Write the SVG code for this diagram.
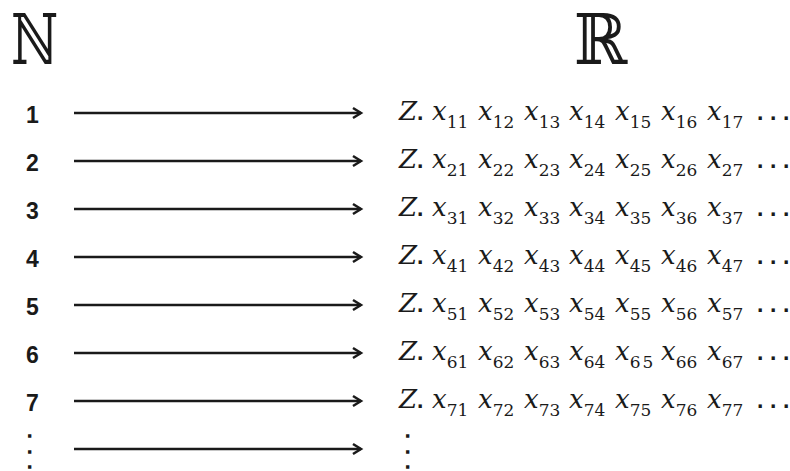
<svg xmlns="http://www.w3.org/2000/svg" width="790" height="471" viewBox="0 0 790 471">
<style>
.set{font-family:"DejaVu Serif","Liberation Serif",serif;font-size:70px;fill:#1a1a1a}
.num{font-family:"Liberation Sans",Arial,sans-serif;font-weight:bold;font-size:23px;fill:#1a1a1a}
.vd{font-family:"Liberation Sans",Arial,sans-serif;font-weight:bold;font-size:12px;fill:#1a1a1a;stroke:#1a1a1a;stroke-width:1.6}
.m{font-family:"DejaVu Serif","Liberation Serif",serif;font-size:26px;fill:#1a1a1a}
.i{font-style:italic}
.s{font-size:17px;font-style:normal}
.d{font-family:"Liberation Sans",Arial,sans-serif;font-weight:bold;font-size:23px;font-style:normal}
.arr{stroke:#1a1a1a;stroke-width:2.5;fill:none}
</style>
<defs>
<marker id="ah" markerUnits="userSpaceOnUse" markerWidth="14" markerHeight="14" refX="10" refY="7" orient="auto">
<path d="M2,2 L10,7 L2,12" fill="none" stroke="#1a1a1a" stroke-width="2.5"/>
</marker>
</defs>
<rect width="790" height="471" fill="#fff"/>
<g id="head-N"><text class="set" transform="translate(11,64) scale(0.74,1)">ℕ</text></g>
<g id="head-R"><text class="set" transform="translate(574,64) scale(0.92,1)">ℝ</text></g>
<g id="connectors">
<line class="arr" x1="74" y1="113" x2="361" y2="113" marker-end="url(#ah)"/>
<line class="arr" x1="74" y1="161" x2="361" y2="161" marker-end="url(#ah)"/>
<line class="arr" x1="74" y1="209" x2="361" y2="209" marker-end="url(#ah)"/>
<line class="arr" x1="74" y1="257" x2="361" y2="257" marker-end="url(#ah)"/>
<line class="arr" x1="74" y1="305" x2="361" y2="305" marker-end="url(#ah)"/>
<line class="arr" x1="74" y1="353" x2="361" y2="353" marker-end="url(#ah)"/>
<line class="arr" x1="74" y1="401" x2="361" y2="401" marker-end="url(#ah)"/>
<line class="arr" x1="74" y1="449" x2="361" y2="449" marker-end="url(#ah)"/>
</g>
<g id="n1"><text class="num" x="26" y="123">1</text></g>
<g id="n2"><text class="num" x="26" y="171">2</text></g>
<g id="n3"><text class="num" x="26" y="219">3</text></g>
<g id="n4"><text class="num" x="26" y="267">4</text></g>
<g id="n5"><text class="num" x="26" y="315">5</text></g>
<g id="n6"><text class="num" x="26" y="363">6</text></g>
<g id="n7"><text class="num" x="26" y="411">7</text></g>
<g id="n-dots"><text class="vd"><tspan x="28" y="436.5">.</tspan><tspan x="28" y="452.5">.</tspan><tspan x="28" y="468">.</tspan></text></g>
<g id="r1"><text class="m" y="120"><tspan class="i" x="399">Z</tspan><tspan class="d">.</tspan><tspan class="i" x="432">x</tspan><tspan class="s" dy="8">11</tspan><tspan class="i" x="478" dy="-8">x</tspan><tspan class="s" dy="8">12</tspan><tspan class="i" x="524" dy="-8">x</tspan><tspan class="s" dy="8">13</tspan><tspan class="i" x="569" dy="-8">x</tspan><tspan class="s" dy="8">14</tspan><tspan class="i" x="615" dy="-8">x</tspan><tspan class="s" dy="8">15</tspan><tspan class="i" x="661" dy="-8">x</tspan><tspan class="s" dy="8">16</tspan><tspan class="i" x="707" dy="-8">x</tspan><tspan class="s" dy="8">17</tspan><tspan class="d" x="757 770 783" dy="-8">...</tspan></text></g>
<g id="r2"><text class="m" y="168"><tspan class="i" x="399">Z</tspan><tspan class="d">.</tspan><tspan class="i" x="432">x</tspan><tspan class="s" dy="8">21</tspan><tspan class="i" x="478" dy="-8">x</tspan><tspan class="s" dy="8">22</tspan><tspan class="i" x="524" dy="-8">x</tspan><tspan class="s" dy="8">23</tspan><tspan class="i" x="569" dy="-8">x</tspan><tspan class="s" dy="8">24</tspan><tspan class="i" x="615" dy="-8">x</tspan><tspan class="s" dy="8">25</tspan><tspan class="i" x="661" dy="-8">x</tspan><tspan class="s" dy="8">26</tspan><tspan class="i" x="707" dy="-8">x</tspan><tspan class="s" dy="8">27</tspan><tspan class="d" x="757 770 783" dy="-8">...</tspan></text></g>
<g id="r3"><text class="m" y="216"><tspan class="i" x="399">Z</tspan><tspan class="d">.</tspan><tspan class="i" x="432">x</tspan><tspan class="s" dy="8">31</tspan><tspan class="i" x="478" dy="-8">x</tspan><tspan class="s" dy="8">32</tspan><tspan class="i" x="524" dy="-8">x</tspan><tspan class="s" dy="8">33</tspan><tspan class="i" x="569" dy="-8">x</tspan><tspan class="s" dy="8">34</tspan><tspan class="i" x="615" dy="-8">x</tspan><tspan class="s" dy="8">35</tspan><tspan class="i" x="661" dy="-8">x</tspan><tspan class="s" dy="8">36</tspan><tspan class="i" x="707" dy="-8">x</tspan><tspan class="s" dy="8">37</tspan><tspan class="d" x="757 770 783" dy="-8">...</tspan></text></g>
<g id="r4"><text class="m" y="264"><tspan class="i" x="399">Z</tspan><tspan class="d">.</tspan><tspan class="i" x="432">x</tspan><tspan class="s" dy="8">41</tspan><tspan class="i" x="478" dy="-8">x</tspan><tspan class="s" dy="8">42</tspan><tspan class="i" x="524" dy="-8">x</tspan><tspan class="s" dy="8">43</tspan><tspan class="i" x="569" dy="-8">x</tspan><tspan class="s" dy="8">44</tspan><tspan class="i" x="615" dy="-8">x</tspan><tspan class="s" dy="8">45</tspan><tspan class="i" x="661" dy="-8">x</tspan><tspan class="s" dy="8">46</tspan><tspan class="i" x="707" dy="-8">x</tspan><tspan class="s" dy="8">47</tspan><tspan class="d" x="757 770 783" dy="-8">...</tspan></text></g>
<g id="r5"><text class="m" y="312"><tspan class="i" x="399">Z</tspan><tspan class="d">.</tspan><tspan class="i" x="432">x</tspan><tspan class="s" dy="8">51</tspan><tspan class="i" x="478" dy="-8">x</tspan><tspan class="s" dy="8">52</tspan><tspan class="i" x="524" dy="-8">x</tspan><tspan class="s" dy="8">53</tspan><tspan class="i" x="569" dy="-8">x</tspan><tspan class="s" dy="8">54</tspan><tspan class="i" x="615" dy="-8">x</tspan><tspan class="s" dy="8">55</tspan><tspan class="i" x="661" dy="-8">x</tspan><tspan class="s" dy="8">56</tspan><tspan class="i" x="707" dy="-8">x</tspan><tspan class="s" dy="8">57</tspan><tspan class="d" x="757 770 783" dy="-8">...</tspan></text></g>
<g id="r6"><text class="m" y="360"><tspan class="i" x="399">Z</tspan><tspan class="d">.</tspan><tspan class="i" x="432">x</tspan><tspan class="s" dy="8">61</tspan><tspan class="i" x="478" dy="-8">x</tspan><tspan class="s" dy="8">62</tspan><tspan class="i" x="524" dy="-8">x</tspan><tspan class="s" dy="8">63</tspan><tspan class="i" x="569" dy="-8">x</tspan><tspan class="s" dy="8">64</tspan><tspan class="i" x="615" dy="-8">x</tspan><tspan class="s" dy="8" letter-spacing="2">65</tspan><tspan class="i" x="661" dy="-8">x</tspan><tspan class="s" dy="8">66</tspan><tspan class="i" x="707" dy="-8">x</tspan><tspan class="s" dy="8">67</tspan><tspan class="d" x="757 770 783" dy="-8">...</tspan></text></g>
<g id="r7"><text class="m" y="408"><tspan class="i" x="399">Z</tspan><tspan class="d">.</tspan><tspan class="i" x="432">x</tspan><tspan class="s" dy="8">71</tspan><tspan class="i" x="478" dy="-8">x</tspan><tspan class="s" dy="8">72</tspan><tspan class="i" x="524" dy="-8">x</tspan><tspan class="s" dy="8">73</tspan><tspan class="i" x="569" dy="-8">x</tspan><tspan class="s" dy="8">74</tspan><tspan class="i" x="615" dy="-8">x</tspan><tspan class="s" dy="8">75</tspan><tspan class="i" x="661" dy="-8">x</tspan><tspan class="s" dy="8">76</tspan><tspan class="i" x="707" dy="-8">x</tspan><tspan class="s" dy="8">77</tspan><tspan class="d" x="757 770 783" dy="-8">...</tspan></text></g>
<g id="r-dots"><text class="vd"><tspan x="406" y="436.5">.</tspan><tspan x="406" y="452.5">.</tspan><tspan x="406" y="468">.</tspan></text></g>
</svg>
